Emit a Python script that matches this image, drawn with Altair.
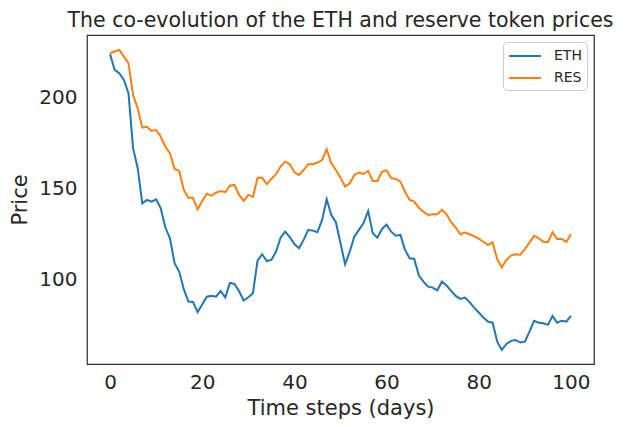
import altair as alt
import pandas as pd

steps = list(range(101))

eth = [224.2, 215.4, 213.6, 209.9, 202.6, 172.4, 161.4, 142.1, 144.0, 143.0,
       144.3, 139.4, 128.8, 122.9, 109.2, 104.6, 94.9, 88.1, 87.9, 82.3,
       86.5, 90.8, 91.3, 90.8, 94.0, 90.3, 98.3, 97.8, 93.8, 88.7,
       90.5, 92.7, 110.6, 114.1, 110.4, 111.0, 115.5, 123.2, 126.5, 123.5,
       119.7, 117.4, 122.0, 127.5, 127.1, 126.2, 133.0, 144.3, 135.7, 131.7,
       120.2, 108.6, 115.5, 123.8, 127.5, 131.2, 137.9, 125.7, 123.2, 128.0,
       130.4, 126.5, 124.3, 124.7, 116.5, 111.9, 111.5, 102.4, 99.1, 96.3,
       95.8, 94.3, 99.1, 96.9, 94.0, 91.2, 89.6, 90.3, 87.8, 84.8,
       82.1, 79.3, 77.1, 76.5, 66.1, 61.5, 64.8, 66.5, 67.0, 65.6,
       66.1, 71.6, 77.5, 76.5, 76.2, 75.3, 80.2, 76.5, 77.6, 77.1, 80.2]

res = [224.6, 225.5, 226.4, 222.7, 219.1, 201.6, 194.3, 183.7, 184.2, 181.9,
       182.4, 178.7, 173.2, 169.6, 161.0, 159.9, 149.5, 145.2, 145.2, 138.8,
       143.4, 147.4, 146.3, 148.0, 148.9, 148.2, 151.8, 152.2, 146.7, 143.4,
       146.7, 145.6, 156.2, 156.2, 152.6, 155.5, 158.1, 162.3, 165.0, 163.6,
       159.1, 157.7, 160.4, 163.6, 163.6, 164.5, 165.9, 171.8, 164.1, 160.4,
       156.2, 151.3, 153.1, 157.7, 159.0, 158.2, 159.9, 154.4, 154.4, 159.5,
       160.2, 155.9, 155.5, 154.0, 148.5, 144.0, 143.0, 139.7, 137.5, 135.7,
       136.1, 136.1, 138.5, 136.1, 131.7, 128.8, 125.1, 126.0, 125.1, 124.0,
       122.7, 121.0, 119.2, 120.7, 111.4, 107.0, 111.0, 113.4, 114.1, 113.9,
       116.9, 120.5, 124.3, 122.9, 121.0, 120.7, 126.2, 122.5, 122.5, 120.9, 125.1]

series_names = ["ETH", "RES"]
series_colors = ["#1f77b4", "#ff7f0e"]

df = pd.concat([
    pd.DataFrame({"t": steps, "price": eth, "series": "ETH"}),
    pd.DataFrame({"t": steps, "price": res, "series": "RES"}),
])

font = "DejaVu Sans"

chart = alt.Chart(df).mark_line(strokeWidth=2).encode(
    x=alt.X("t:Q", title="Time steps (days)",
            scale=alt.Scale(domain=[-5, 105], nice=False, zero=False),
            axis=alt.Axis(values=[0, 20, 40, 60, 80, 100], grid=False, ticks=False,
                          domain=False, labelPadding=8, titlePadding=5)),
    y=alt.Y("price:Q", title="Price",
            scale=alt.Scale(domain=[53.8, 234.6], nice=False, zero=False),
            axis=alt.Axis(values=[100, 150, 200], grid=False, ticks=False,
                          domain=False, labelPadding=10, titlePadding=8)),
    color=alt.Color("series:N",
                    scale=alt.Scale(domain=series_names, range=series_colors),
                    legend=alt.Legend(title=None, orient="top-right",
                                      symbolType="M-1,0H3", symbolStrokeWidth=2, symbolSize=256,
                                      labelFontSize=14, labelFont=font, labelColor="#262626",
                                      strokeColor="#cccccc", fillColor="white", cornerRadius=4,
                                      padding=5, offset=7, rowPadding=6, labelOffset=28)),
).properties(
    width=507, height=329,
    autosize=alt.AutoSizeParams(type="none"),
    padding={"left": 79, "top": 27, "right": 22, "bottom": 62},
    title=alt.TitleParams("The co-evolution of the ETH and reserve token prices",
                          fontSize=20.5, font=font, fontWeight="normal", color="#262626",
                          offset=4),
).configure_view(
    stroke="#333333", strokeWidth=1.25
).configure_axis(
    labelFont=font, titleFont=font, labelFontSize=20, titleFontSize=21,
    labelColor="#262626", titleColor="#262626", titleFontWeight="normal"
)

chart.save("out.html", embed_options={"renderer": "svg", "actions": False})
